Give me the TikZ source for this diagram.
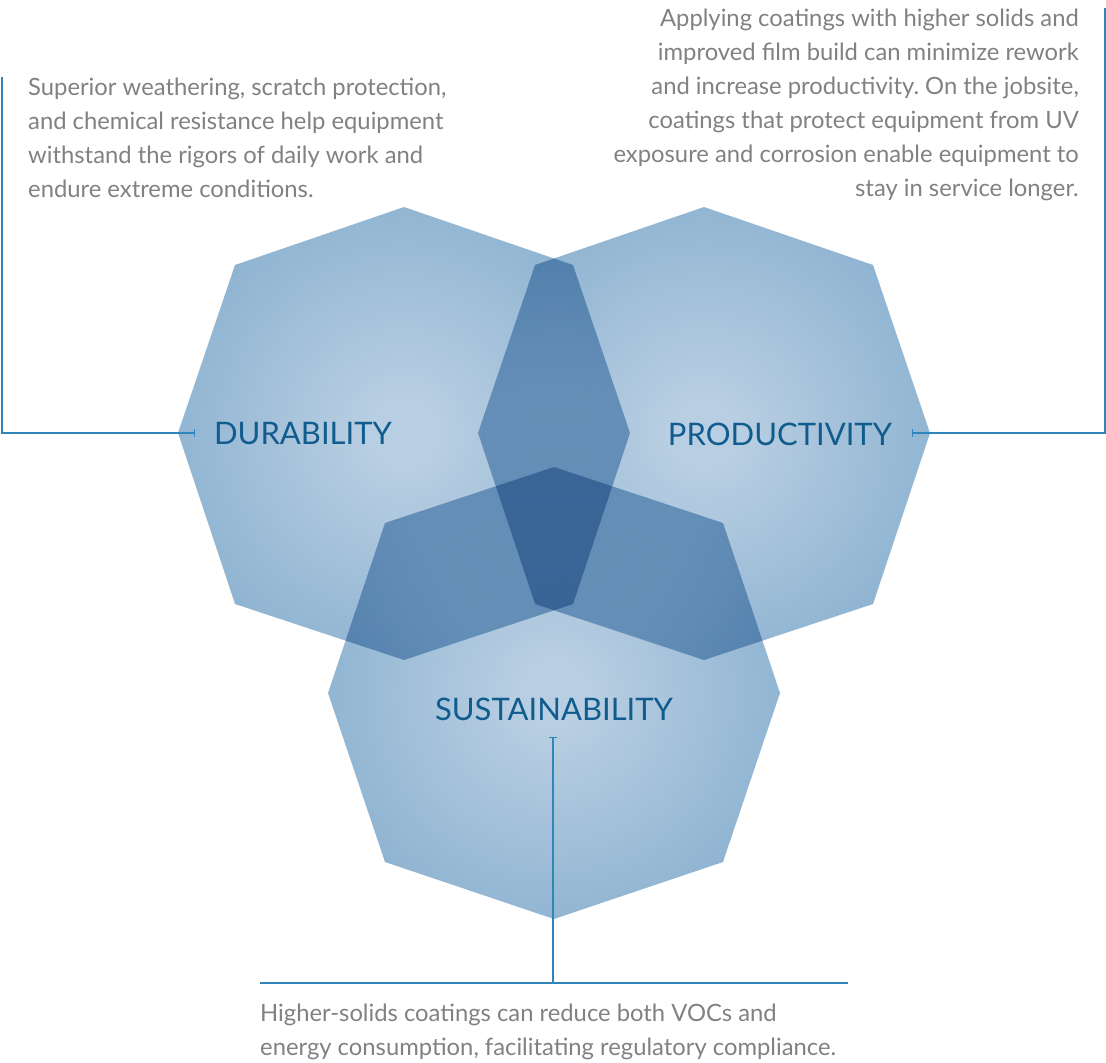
\documentclass[tikz,border=0pt]{standalone}
\usepackage{fontspec}
\setmainfont{Lato}
\usetikzlibrary{arrows.meta}
\frenchspacing
\definecolor{octin}{RGB}{184,206,226}
\definecolor{octout}{RGB}{140,178,208}
\definecolor{txtgray}{RGB}{128,129,132}
\definecolor{lblblue}{RGB}{16,92,142}
\definecolor{lineblue}{RGB}{46,134,186}
\pgfdeclareradialshading{octshade}{\pgfpoint{0bp}{0bp}}{color(0bp)=(octin); color(4bp)=(octin); color(28bp)=(octout); color(50bp)=(octout)}
\tikzset{
  octo/.style={shading=octshade},
  lbl/.style={inner sep=0pt, text=lblblue, font=\fontsize{31}{31}\selectfont},
  body/.style={inner sep=0pt, text=txtgray},
  conn/.style={draw=lineblue, line width=1.3pt},
  tickend/.style={-{Bar[width=8pt,line width=1.3pt]}},
}
\newcommand\bodyfont{\fontsize{23.8}{34}\selectfont\frenchspacing}
\begin{document}
\begin{tikzpicture}[x=1pt,y=-1pt]
\useasboundingbox (0,0) rectangle (1106,1063);
\begin{scope}[blend mode=multiply]
\shade[octo] (404,207) -- (573,265) -- (630,433) -- (573,604) -- (404,660) -- (235,604) -- (178,433) -- (235,265) -- cycle;
\shade[octo] (704,207) -- (873,265) -- (930,433) -- (873,604) -- (704,660) -- (535,604) -- (478,433) -- (535,265) -- cycle;
\shade[octo] (554,467) -- (723,523) -- (780,693) -- (723,862) -- (554,919) -- (385,862) -- (328,693) -- (385,523) -- cycle;
\end{scope}
\node[lbl] (dur) at (303,434) {DURABILITY};
\node[lbl] (prod) at (780,434) {PRODUCTIVITY};
\node[lbl] (sus) at (554,709) {SUSTAINABILITY};
\node[body, anchor=base west] (ltext) at (28,95) {\parbox[t]{500pt}{\bodyfont\raggedright
Superior weathering, scratch protection,\\
and chemical resistance help equipment\\
withstand the rigors of daily work and\\
endure extreme conditions.}};
\node[body, anchor=base east] (rtext) at (1079,26) {\parbox[t]{560pt}{\bodyfont\raggedleft
Applying coatings with higher solids and\\
improved film build can minimize rework\\
and increase productivity. On the jobsite,\\
coatings that protect equipment from UV\\
exposure and corrosion enable equipment to\\
stay in service longer.}};
\node[body, anchor=base west] (btext) at (260,1021) {\parbox[t]{700pt}{\bodyfont\raggedright
Higher-solids coatings can reduce both VOCs and\\
energy consumption, facilitating regulatory compliance.}};
\coordinate (dtop) at (2,77);
\coordinate (ptop) at (1105,8);
\coordinate (dtick) at (195,433);
\coordinate (ptick) at (912,433);
\coordinate (stick) at (553,737);
\coordinate (sbl) at (260,983);
\coordinate (sbr) at (848,983);
\draw[conn, tickend] (dtop) |- (dtick);
\draw[conn, tickend] (ptop) |- (ptick);
\draw[conn] (sbl) -- (sbr);
\draw[conn, tickend] (stick |- sbl) -- (stick);
\end{tikzpicture}
\end{document}
